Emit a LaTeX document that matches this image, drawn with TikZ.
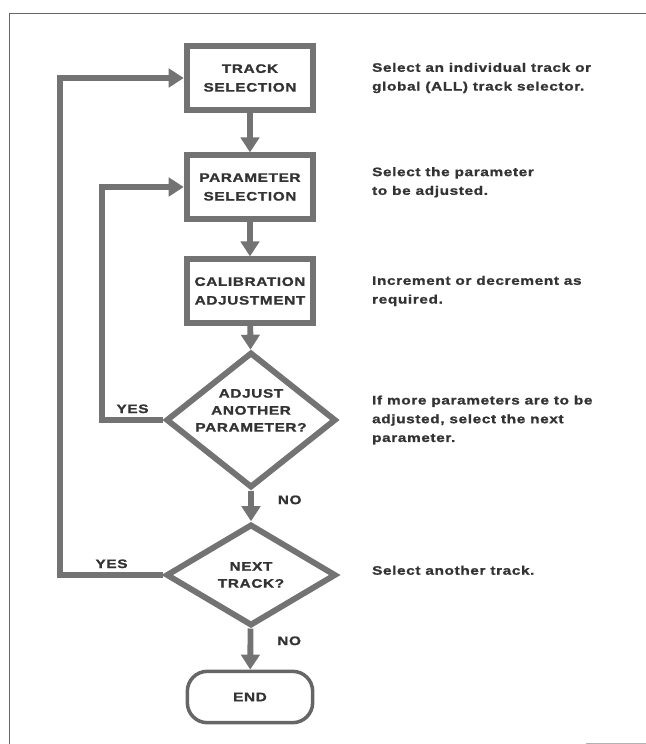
\documentclass[tikz,border=0pt]{standalone}
\usepackage{fontspec}
\setmainfont{Liberation Sans}[FakeStretch=1.25,LetterSpace=5,BoldFeatures={FakeBold=1.2}]
\usetikzlibrary{shapes.geometric,arrows.meta}

\begin{document}
\begin{tikzpicture}[x=0.3mm, y=-0.3mm, font=\bfseries\fontsize{10.5}{16}\selectfont,
  box/.style={draw=black!55, line width=5pt, minimum width=38mm, minimum height=19mm, align=center, text=black!80},
  ask/.style={diamond, draw=black!55, line width=5pt, minimum width=51mm, minimum height=32mm, inner sep=-8pt, align=center, text=black!80, font=\bfseries\fontsize{10.5}{14.5}\selectfont},
  flow/.style={draw=black!55, line width=5pt, line join=miter, -{Triangle[length=4.5mm,width=5.5mm]}},
  note/.style={anchor=west, align=left, text=black!80},
  tag/.style={text=black!80}]
 \useasboundingbox (0,0) rectangle (646,744);
 \draw[black!60, line width=0.8pt] (9,744) -- (9,13) -- (646,13);
 \draw[black!30, line width=0.6pt] (586,743) -- (646,743);

 \node[box] (track) at (250,78) {TRACK\\SELECTION};
 \node[box] (param) at (250,187) {PARAMETER\\SELECTION};
 \node[box] (calib) at (250,291) {CALIBRATION\\ADJUSTMENT};
 \node[ask] (adjust) at (251,420) {ADJUST\\ANOTHER\\PARAMETER?\\[2pt]};
 \node[ask, minimum height=30.5mm] (next) at (251,575) {NEXT\\TRACK?};
 \node[draw=black!60, line width=3pt, rounded corners=6mm, minimum width=37.6mm, minimum height=15.4mm, text=black!80] (end) at (250,697) {END};

 % loop-back lines on the left
 \coordinate (innerloop) at (102,0);
 \coordinate (outerloop) at (60,0);

 \draw[flow] (track) -- (param);
 \draw[flow] (param) -- (calib);
 \draw[flow] (calib) -- (adjust);
 \draw[flow] (adjust) -- node[tag, pos=0.3, right=6mm] {NO} (next);
 \draw[flow] (next) -- node[tag, pos=0.3, right=6mm] {NO} (end);
 \draw[flow] (adjust.west) -- node[tag, above] {YES} (adjust.west -| innerloop) |- (param.west);
 \draw[flow] (next.west) -- node[tag, above] {YES} (next.west -| outerloop) |- (track.west);

 \coordinate (notes) at (368,0);
 \node[note] (tracknote) at (track -| notes) {Select an individual track or\\global (ALL) track selector.};
 \node[note] (paramnote) at ([yshift=4]param -| notes) {Select the parameter\\to be adjusted.};
 \node[note] (calibnote) at (calib -| notes) {Increment or decrement as\\required.};
 \node[note] (adjustnote) at (adjust -| notes) {If more parameters are to be\\adjusted, select the next\\parameter.};
 \node[note] (nextnote) at ([yshift=4]next -| notes) {Select another track.};
\end{tikzpicture}
\end{document}
